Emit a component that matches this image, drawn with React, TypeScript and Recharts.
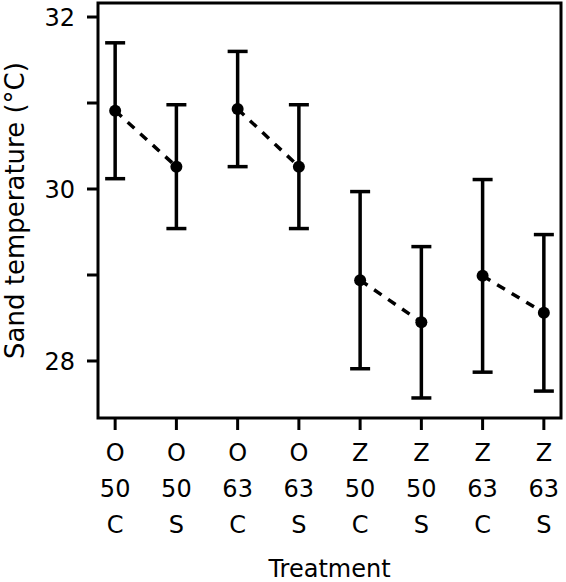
import React from 'react';
import { ComposedChart, XAxis, YAxis, Line, Scatter, ErrorBar, ReferenceArea } from 'recharts';

// treatment labels, one array per line of the tick
const site = ['O', 'O', 'O', 'O', 'Z', 'Z', 'Z', 'Z'];
const density = ['50', '50', '63', '63', '50', '50', '63', '63'];
const shade = ['C', 'S', 'C', 'S', 'C', 'S', 'C', 'S'];

// sand temperature means and error half-widths (°C)
const means = [30.91, 30.26, 30.93, 30.26, 28.94, 28.45, 28.99, 28.56];
const errors = [0.79, 0.72, 0.67, 0.72, 1.03, 0.88, 1.12, 0.91];

const yTicks = [28, 29, 30, 31, 32];
const yLabelled = [28, 30, 32];

const X_MIN = 0.72;
const X_MAX = 8.28;
const Y_MIN = 27.337;
const Y_MAX = 32.163;

const FONT = '"DejaVu Sans", "Liberation Sans", Arial, sans-serif';
const FS = 24;
const INK = '#000';

// each pair (C vs S) is joined by its own dashed segment
const rows = means.map((m, i) => ({
  x: i + 1,
  mean: m,
  err: errors[i],
  ['pair' + Math.floor(i / 2)]: m,
}));
const pairKeys = ['pair0', 'pair1', 'pair2', 'pair3'];

const XTick = (props: any) => {
  const { x, y, payload } = props;
  const i = Math.round(payload.value) - 1;
  const lines = [site[i], density[i], shade[i]];
  return (
    <g>
      {lines.map((t, k) => (
        <text
          key={k}
          x={x}
          y={y + 29 + k * 36}
          textAnchor="middle"
          fontSize={FS}
          fontFamily={FONT}
          fill={INK}
        >
          {t}
        </text>
      ))}
    </g>
  );
};

const Dot = (props: any) => {
  const { cx, cy } = props;
  if (cx == null || cy == null) return null;
  return <circle cx={cx} cy={cy} r={6} fill={INK} />;
};

export default function App() {
  return (
    <div style={{ position: 'absolute', left: 0, top: 0, background: '#fff' }}>
      <ComposedChart
        width={566}
        height={582}
        data={rows}
        margin={{ top: 3, right: 5, left: 0, bottom: 0 }}
      >
        <XAxis
          type="number"
          dataKey="x"
          domain={[X_MIN, X_MAX]}
          ticks={[1, 2, 3, 4, 5, 6, 7, 8]}
          allowDataOverflow
          height={164}
          axisLine={false}
          tickSize={12}
          tickLine={{ stroke: INK, strokeWidth: 3 }}
          tick={<XTick />}
          interval={0}
          label={{
            value: 'Treatment',
            position: 'insideBottom',
            offset: 5,
            style: { fontSize: FS, fontFamily: FONT, fill: INK, textAnchor: 'middle' },
          }}
        />
        <YAxis
          type="number"
          domain={[Y_MIN, Y_MAX]}
          ticks={yTicks}
          allowDataOverflow
          width={98}
          axisLine={false}
          tickSize={11}
          tickMargin={12}
          interval={0}
          tickLine={{ stroke: INK, strokeWidth: 3 }}
          tick={{ fontSize: FS, fontFamily: FONT, fill: INK }}
          tickFormatter={(v: number) => (yLabelled.includes(v) ? String(v) : '')}
          label={{
            value: 'Sand temperature (°C)',
            angle: -90,
            position: 'insideLeft',
            offset: 15,
            style: { fontSize: 26, fontFamily: FONT, fill: INK, textAnchor: 'middle' },
          }}
        />
        <ReferenceArea
          x1={X_MIN}
          x2={X_MAX}
          y1={Y_MIN}
          y2={Y_MAX}
          fill="none"
          fillOpacity={0}
          stroke={INK}
          strokeWidth={3}
          ifOverflow="visible"
        />
        {pairKeys.map((k) => (
          <Line
            key={k}
            type="linear"
            dataKey={k}
            stroke={INK}
            strokeWidth={3.5}
            strokeDasharray="9 8"
            dot={false}
            activeDot={false}
            connectNulls={false}
            isAnimationActive={false}
          />
        ))}
        <Scatter data={rows} dataKey="mean" shape={<Dot />} isAnimationActive={false}>
          <ErrorBar
            dataKey="err"
            direction="y"
            width={10}
            stroke={INK}
            strokeWidth={3.5}
            isAnimationActive={false}
          />
        </Scatter>
      </ComposedChart>
    </div>
  );
}
